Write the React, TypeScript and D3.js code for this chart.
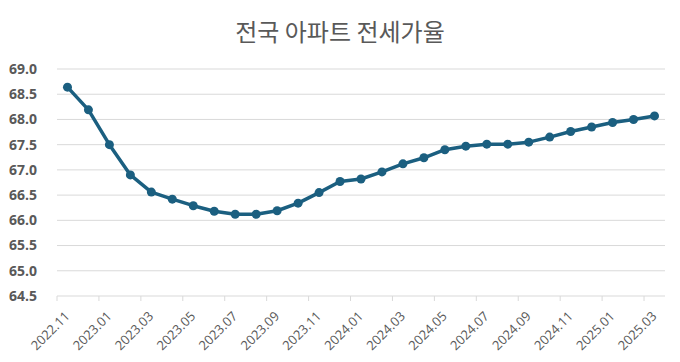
import React, { useEffect, useRef } from 'react';
import * as d3 from 'd3';

const months = [
  '2022.11', '2022.12', '2023.01', '2023.02', '2023.03', '2023.04', '2023.05', '2023.06',
  '2023.07', '2023.08', '2023.09', '2023.10', '2023.11', '2023.12', '2024.01', '2024.02',
  '2024.03', '2024.04', '2024.05', '2024.06', '2024.07', '2024.08', '2024.09', '2024.10',
  '2024.11', '2024.12', '2025.01', '2025.02', '2025.03',
];

const ratio = [
  68.64, 68.19, 67.5, 66.9, 66.56, 66.42, 66.29, 66.18,
  66.12, 66.12, 66.19, 66.34, 66.55, 66.77, 66.82, 66.96,
  67.12, 67.24, 67.4, 67.47, 67.51, 67.51, 67.55, 67.65,
  67.76, 67.85, 67.94, 68.0, 68.07,
];

const yTicks = [64.5, 65, 65.5, 66, 66.5, 67, 67.5, 68, 68.5, 69];

const title = '전국 아파트 전세가율';

export default function App() {
  const ref = useRef<SVGSVGElement>(null);

  useEffect(() => {
    const width = 680;
    const height = 362;
    const svg = d3.select(ref.current);
    svg.selectAll('*').remove();

    const margin = { top: 69, right: 15, bottom: 66, left: 57 };
    const chartW = width - margin.left - margin.right;
    const chartH = height - margin.top - margin.bottom;

    const x = d3.scaleBand().domain(months).range([0, chartW]).padding(0);
    const y = d3.scaleLinear().domain([64.5, 69]).range([chartH, 0]);

    svg.append('text')
      .attr('x', width / 2)
      .attr('y', 41)
      .attr('text-anchor', 'middle')
      .attr('font-family', '"Noto Sans CJK KR", sans-serif')
      .attr('font-size', 24)
      .attr('fill', '#595959')
      .text(title);

    const g = svg.append('g').attr('transform', `translate(${margin.left},${margin.top})`);

    // gridlines
    g.selectAll('.grid')
      .data(yTicks)
      .enter().append('line')
      .attr('x1', 0)
      .attr('x2', chartW)
      .attr('y1', d => y(d))
      .attr('y2', d => y(d))
      .attr('stroke', '#d9d9d9')
      .attr('stroke-width', 1);

    // y labels
    g.selectAll('.ylab')
      .data(yTicks)
      .enter().append('text')
      .attr('x', -20)
      .attr('y', d => y(d))
      .attr('dy', '0.35em')
      .attr('text-anchor', 'end')
      .attr('font-family', '"Open Sans", sans-serif')
      .attr('font-weight', 'bold')
      .attr('font-size', 14)
      .attr('fill', '#595959')
      .text(d => d.toFixed(1));

    // x axis ticks (between categories, every 2)
    const tickIdx = d3.range(0, months.length + 1, 2);
    g.selectAll('.xtick')
      .data(tickIdx)
      .enter().append('line')
      .attr('x1', i => (i < months.length ? x(months[i])! : chartW))
      .attr('x2', i => (i < months.length ? x(months[i])! : chartW))
      .attr('y1', chartH)
      .attr('y2', chartH + 5)
      .attr('stroke', '#d9d9d9');

    const labelMonths = months.filter((_, i) => i % 2 === 0);
    g.selectAll('.xlab')
      .data(labelMonths)
      .enter().append('text')
      .attr('transform', d => `translate(${x(d)! + x.bandwidth() / 2 + 3},${chartH + 21}) rotate(-45)`)
      .attr('text-anchor', 'end')
      .attr('font-family', '"Open Sans", sans-serif')
      .attr('font-size', 13)
      .attr('fill', '#595959')
      .text(d => d);

    const line = d3.line<number>()
      .x((_, i) => x(months[i])! + x.bandwidth() / 2)
      .y(d => y(d));

    g.append('path')
      .datum(ratio)
      .attr('d', line)
      .attr('fill', 'none')
      .attr('stroke', '#1b5f80')
      .attr('stroke-width', 3.5)
      .attr('stroke-linejoin', 'round');

    g.selectAll('.dot')
      .data(ratio)
      .enter().append('circle')
      .attr('cx', (_, i) => x(months[i])! + x.bandwidth() / 2)
      .attr('cy', d => y(d))
      .attr('r', 4.5)
      .attr('fill', '#1b5f80');
  }, []);

  return <svg ref={ref} width={680} height={362} style={{ display: 'block', position: 'absolute', left: 0, top: 0 }} />;
}
